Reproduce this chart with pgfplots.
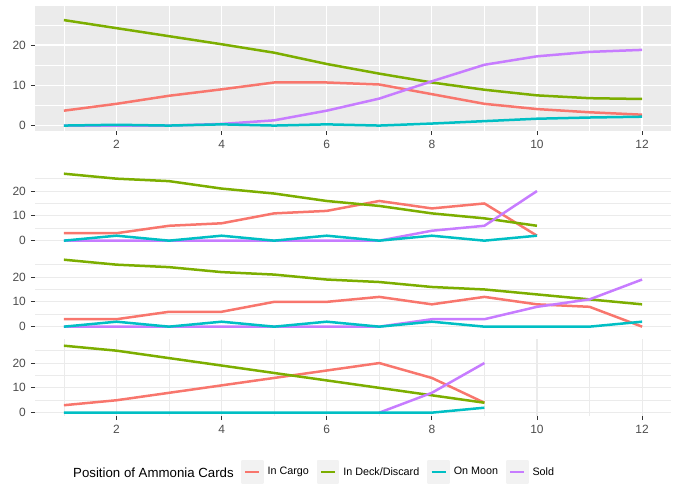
\documentclass[border=0pt]{standalone}
\usepackage{pgfplots}
\usepackage{pgfplotstable}
\pgfplotsset{compat=1.18}
\usepackage{fontspec}
\setmainfont{Liberation Sans}
\definecolor{cCargo}{HTML}{F8766D}
\definecolor{cDeck}{HTML}{7CAE00}
\definecolor{cMoon}{HTML}{00BFC4}
\definecolor{cSold}{HTML}{C77CFF}
\definecolor{panelbg}{HTML}{EBEBEB}
\definecolor{gridgrey}{HTML}{EBEBEB}
\definecolor{ticktext}{HTML}{4D4D4D}
\definecolor{tickline}{HTML}{333333}
\definecolor{keybg}{HTML}{F2F2F2}

\pgfplotstableread{
x cargo deck moon sold
1 3.7 26.2 0 0
2 5.4 24.2 0.2 0
3 7.4 22.2 0 0
4 9.0 20.2 0.3 0.4
5 10.7 18.1 0 1.3
6 10.7 15.3 0.3 3.7
7 10.2 12.9 0 6.7
8 7.8 10.7 0.5 11.0
9 5.4 8.9 1.1 15.1
10 4.1 7.5 1.7 17.2
11 3.3 6.8 2.0 18.3
12 2.7 6.6 2.2 18.8
}\tabA
\pgfplotstableread{
x cargo deck moon sold
1 3 27 0 0
2 3 25 2 0
3 6 24 0 0
4 7 21 2 0
5 11 19 0 0
6 12 16 2 0
7 16 14 0 0
8 13 11 2 4
9 15 9 0 6
10 2 6 2 20
}\tabB
\pgfplotstableread{
x cargo deck moon sold
1 3 27 0 0
2 3 25 2 0
3 6 24 0 0
4 6 22 2 0
5 10 21 0 0
6 10 19 2 0
7 12 18 0 0
8 9 16 2 3
9 12 15 0 3
10 9 13 0 8
11 8 11 0 11
12 0 9 2 19
}\tabC
\pgfplotstableread{
x cargo deck moon sold
1 3 27 0 nan
2 5 25 0 nan
3 8 22 0 nan
4 11 19 0 nan
5 14 16 0 nan
6 17 13 0 nan
7 20 10 0 0
8 14 7 0 8
9 4 4 2 20
}\tabD

\pgfplotsset{
  base/.style={
    scale only axis, width=636bp,
    xmin=0.45, xmax=12.55, ymin=-1.35, ymax=29.7,
    ytick={0,10,20}, minor ytick={5,15,25},
    grid=both,
    axis line style={draw=none},
    tick align=outside, major tick length=4bp, minor tick length=0pt,
    xtick pos=bottom, ytick pos=left,
    tick style={tickline, line width=0.9bp},
    tick label style={font=\fontsize{12}{14}\selectfont, text=ticktext},
    every y tick label/.append style={inner xsep=0pt, xshift=-5bp},
    every x tick label/.append style={inner ysep=0pt, yshift=-5bp},
    /pgf/number format/assume math mode=true,
    every axis plot/.append style={line width=2.5bp, line join=round, no markers},
  },
  facet/.style={
    base, height=77bp,
    major grid style={gridgrey, line width=1.1bp},
    minor grid style={gridgrey, line width=0.7bp},
  },
}

\begin{document}
\begin{tikzpicture}
\useasboundingbox (0,0) rectangle (678bp,-485bp);

% top panel
\begin{axis}[base, height=125bp, at={(35bp,-6bp)}, anchor=north west,
  axis background/.style={fill=panelbg},
  xtick={2,4,...,12}, minor xtick={1,3,...,11},
  major grid style={white, line width=1.2bp},
  minor grid style={white, line width=0.6bp}]
\addplot[cCargo] table[x=x,y=cargo] {\tabA};
\addplot[cDeck] table[x=x,y=deck] {\tabA};
\addplot[cSold] table[x=x,y=sold] {\tabA};
\addplot[cMoon] table[x=x,y=moon] {\tabA};
\end{axis}

% facet 1
\begin{axis}[facet, at={(35bp,-167bp)}, anchor=north west,
  xtick=\empty, minor xtick={1,2,...,12}]
\addplot[cCargo] table[x=x,y=cargo] {\tabB};
\addplot[cDeck] table[x=x,y=deck] {\tabB};
\addplot[cSold] table[x=x,y=sold] {\tabB};
\addplot[cMoon] table[x=x,y=moon] {\tabB};
\end{axis}

% facet 2
\begin{axis}[facet, at={(35bp,-253bp)}, anchor=north west,
  xtick=\empty, minor xtick={1,2,...,12}]
\addplot[cCargo] table[x=x,y=cargo] {\tabC};
\addplot[cDeck] table[x=x,y=deck] {\tabC};
\addplot[cSold] table[x=x,y=sold] {\tabC};
\addplot[cMoon] table[x=x,y=moon] {\tabC};
\end{axis}

% facet 3
\begin{axis}[facet, at={(35bp,-339bp)}, anchor=north west,
  xtick={2,4,...,12}, minor xtick={1,3,...,11},
  legend columns=-1,
  legend image code/.code={
    \fill[keybg] (0bp,-11bp) rectangle (20bp,11bp);
    \draw[#1] (3bp,0bp) -- (17bp,0bp);},
  legend style={at={(axis description cs:0.324,-0.727)}, anchor=west,
    draw=none, fill=none, inner sep=0pt, outer sep=0pt,
    font=\fontsize{10.8}{12}\selectfont,
    nodes={inner xsep=4bp, inner ysep=0pt},
    /tikz/every even column/.append style={column sep=4bp}}]
\addlegendimage{cCargo, line width=2.5bp}
\addlegendentry{In Cargo}
\addlegendimage{cDeck, line width=2.5bp}
\addlegendentry{In Deck/Discard}
\addlegendimage{cMoon, line width=2.5bp}
\addlegendentry{On Moon}
\addlegendimage{cSold, line width=2.5bp}
\addlegendentry{Sold}
\addplot[cCargo, forget plot] table[x=x,y=cargo] {\tabD};
\addplot[cDeck, forget plot] table[x=x,y=deck] {\tabD};
\addplot[cSold, forget plot] table[x=x,y=sold] {\tabD};
\addplot[cMoon, forget plot] table[x=x,y=moon] {\tabD};
\end{axis}

\node[anchor=west, inner sep=0pt, font=\fontsize{13.3}{15}\selectfont] at (73bp,-473bp) {Position of Ammonia Cards};
\end{tikzpicture}
\end{document}
